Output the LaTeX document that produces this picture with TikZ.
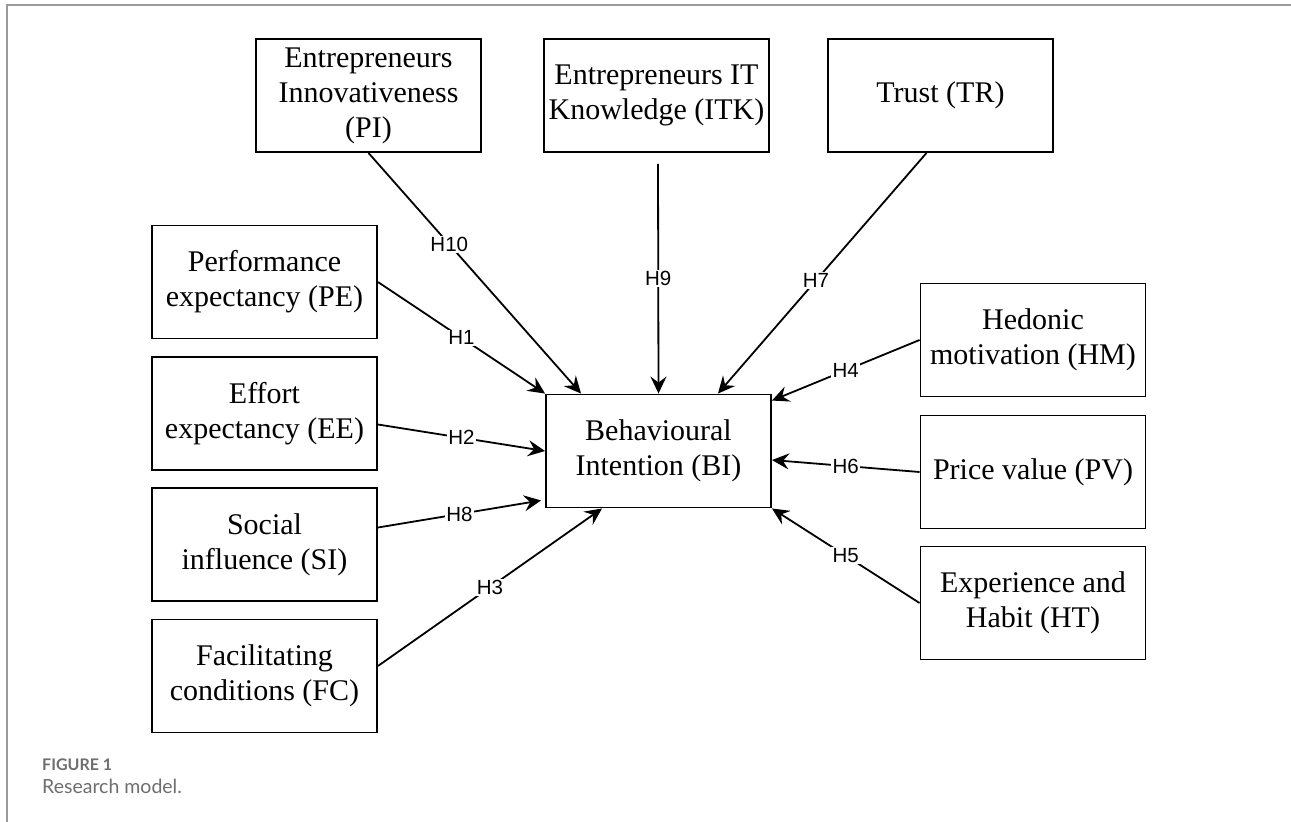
\documentclass[tikz,border=0pt]{standalone}
\usepackage{fontspec}
\setmainfont{Liberation Serif}
\newfontfamily\labfont{Liberation Sans}
\newfontfamily\capfont{Lato}
\usetikzlibrary{arrows.meta,calc}
\definecolor{framegray}{HTML}{9A9A9A}
\definecolor{capgray}{HTML}{6E6E6E}
\tikzset{
  box/.style={draw, line width=1.9pt, minimum width=225pt, minimum height=113pt,
    align=center, inner sep=2pt, font=\fontsize{30}{35}\selectfont},
  conn/.style={line width=1.8pt, -{Stealth[length=17pt,width=16pt,inset=6pt]}},
  hlab/.style={fill=white, inner sep=1.2pt, font=\labfont\fontsize{20.5}{22}\selectfont},
  capa/.style={anchor=base west, inner sep=0pt, text=capgray},
}
\begin{document}
\begin{tikzpicture}[x=1pt,y=-1pt]
\useasboundingbox (0,0) rectangle (1291,822);
% frame
\draw[framegray, line width=2pt] (7,822) -- (7,4.5) -- (1291,4.5);
% boxes
\node[box] (PI)  at (368.5,95.5) {Entrepreneurs\\Innovativeness\\(PI)};
\node[box] (ITK) at (656.5,95.5) {Entrepreneurs IT\\Knowledge (ITK)};
\node[box] (TR)  at (940.5,95.5) {Trust (TR)};
\node[box] (PE)  at (264.5,282)  {Performance\\expectancy (PE)};
\node[box] (EE)  at (264.5,413.5) {Effort\\expectancy (EE)};
\node[box] (SI)  at (264.5,544.5) {Social\\influence (SI)};
\node[box] (FC)  at (264.5,676)  {Facilitating\\conditions (FC)};
\node[box] (BI)  at (658.5,451)  {Behavioural\\Intention (BI)};
\node[box] (HM)  at (1033,340)   {Hedonic\\motivation (HM)};
\node[box] (PV)  at (1033,472)   {Price value (PV)};
\node[box] (HT)  at (1033,603)   {Experience and\\Habit (HT)};
% connectors
\draw[conn] (PI.south) -- ($(BI.north west)+(36,0)$) node[hlab, pos=0.38]{H10};
\draw[conn] ($(ITK.south)+(1.5,11)$) -- (BI.north) node[hlab, pos=0.5]{H9};
\draw[conn] ($(TR.south)+(-14,0)$) -- ($(BI.north east)+(-54,0)$) node[hlab, pos=0.53]{H7};
\draw[conn] (PE.east) -- (BI.north west) node[hlab, pos=0.5]{H1};
\draw[conn] ($(EE.east)+(0,11)$) -- (BI.west) node[hlab, pos=0.5]{H2};
\draw[conn] ($(SI.east)+(0,-17)$) -- ($(BI.south west)+(-4,-8)$) node[hlab, pos=0.5]{H8};
\draw[conn] ($(FC.east)+(0,-10)$) -- ($(BI.south west)+(57,0)$) node[hlab, pos=0.5]{H3};
\draw[conn] (HM.west) -- ($(BI.north east)+(0,7)$) node[hlab, pos=0.5]{H4};
\draw[conn] (PV.west) -- ($(BI.east)+(0,9)$) node[hlab, pos=0.5]{H6};
\draw[conn] (HT.west) -- (BI.south east) node[hlab, pos=0.5]{H5};
% caption
\node[capa, font=\capfont\bfseries\fontsize{16}{18}\selectfont] (cap1) at (42,770) {FIGURE 1};
\node[capa, font=\capfont\fontsize{19.5}{21}\selectfont] (cap2) at (42,793) {Research model.};
\end{tikzpicture}
\end{document}
